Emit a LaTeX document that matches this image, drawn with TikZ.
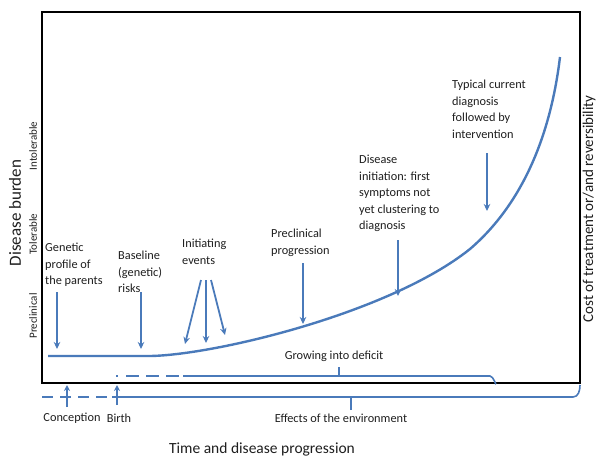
\documentclass[tikz,border=0pt]{standalone}
\usepackage{fontspec}
\setmainfont{Carlito}
\usetikzlibrary{arrows.meta}
\definecolor{burdenblue}{RGB}{74,122,186}
\definecolor{textgray}{RGB}{30,30,30}

\begin{document}
\begin{tikzpicture}[x=1pt,y=-1pt,
    every node/.style={inner sep=0pt,text=textgray,font=\fontsize{12.3}{16.5}\selectfont},
    lbl/.style={align=left,anchor=north west},
    axislbl/.style={rotate=90,font=\fontsize{11}{13}\selectfont},
    arr/.style={burdenblue,line width=1.8pt,-{Stealth[length=7pt,width=6.5pt]}},
    bline/.style={burdenblue,line width=1.6pt},
    dashline/.style={bline,dash pattern=on 11pt off 7pt}]
  \useasboundingbox (0,0) rectangle (597,459);
  \draw[line width=1.4pt] (42,12) rectangle (580,383);

  \node[axislbl,font=\fontsize{17}{19}\selectfont] (burden) at (15,213) {Disease burden};
  \node[axislbl] (intol) at (33,146) {Intolerable};
  \node[axislbl] (tol) at (33,234) {Tolerable};
  \node[axislbl] (precl) at (33,316) {Preclinical};
  \node[axislbl,font=\fontsize{15}{17}\selectfont] (cost) at (589,209) {Cost of treatment or/and reversibility};

  \node[lbl] (genetic) at (45,243) {Genetic\\profile of\\the parents};
  \node[lbl] (baseline) at (118,251) {Baseline\\(genetic)\\risks};
  \node[lbl] (initiating) at (182,239) {Initiating\\events};
  \node[lbl] (preclprog) at (271,229) {Preclinical\\progression};
  \node[lbl] (initiation) at (359,155) {Disease\\initiation: first\\symptoms not\\yet clustering to\\diagnosis};
  \node[lbl] (typical) at (452,80) {Typical current\\diagnosis\\followed by\\intervention};
  \node (deficit) at (334,356) {Growing into deficit};
  \node (conception) at (72,418) {Conception};
  \node (birth) at (119,418) {Birth};
  \node (environment) at (341,418) {Effects of the environment};
  \node[font=\fontsize{15.5}{18}\selectfont] (time) at (262,449) {Time and disease progression};

  \coordinate (c0) at (48,356);
  \coordinate (c1) at (150,356);
  \coordinate (c2) at (470,249);
  \coordinate (c3) at (560,57);
  \draw[burdenblue,line width=2.4pt] (c0) -- (c1)
    .. controls (215,355) and (390,313) .. (c2)
    .. controls (520,206) and (550,140) .. (c3);

  \coordinate (g1) at (57,292);   \coordinate (g2) at (57,349);
  \coordinate (b1) at (141,292);  \coordinate (b2) at (141,349);
  \coordinate (i0) at (206,280);
  \coordinate (i1) at (185,344);  \coordinate (i2) at (206,343);  \coordinate (i3) at (225,335);
  \coordinate (p1) at (303,263);  \coordinate (p2) at (303,324);
  \coordinate (d1) at (398,240);  \coordinate (d2) at (398,296);
  \coordinate (t1) at (487,153);  \coordinate (t2) at (487,211);
  \draw[arr] (g1) -- (g2);
  \draw[arr] (b1) -- (b2);
  \draw[arr] ([xshift=-5pt]i0) -- (i1);
  \draw[arr] (i0) -- (i2);
  \draw[arr] ([xshift=5pt]i0) -- (i3);
  \draw[arr] (p1) -- (p2);
  \draw[arr] (d1) -- (d2);
  \draw[arr] (t1) -- (t2);

  \coordinate (gstart) at (116,376);
  \coordinate (gsolid) at (183,376);
  \coordinate (gend) at (490,376);
  \coordinate (gtip) at (339,367);
  \draw[bline,dash pattern=on 2pt off 8pt on 13pt off 7pt on 13pt off 7pt on 13pt off 7pt] (gstart) -- (gsolid);
  \draw[bline] (gsolid) -- (gend) to[out=0,in=-90] (496,383);
  \draw[bline] (gtip) -- (gtip |- gend);

  \coordinate (estart) at (42,397);
  \coordinate (esolid) at (112,397);
  \coordinate (eend) at (573,397);
  \coordinate (etip) at (351,410);
  \draw[dashline] (estart) -- (esolid);
  \draw[bline] (esolid) -- (eend) to[out=0,in=-90] (580,385);
  \draw[bline] (etip) -- (etip |- eend);

  \coordinate (k1) at (67,407);  \coordinate (k2) at (67,385);
  \coordinate (h1) at (117,405); \coordinate (h2) at (117,385);
  \draw[arr,line width=1.5pt,-{Stealth[length=6pt,width=6pt]}] (k1) -- (k2);
  \draw[arr,line width=1.5pt,-{Stealth[length=6pt,width=6pt]}] (h1) -- (h2);
\end{tikzpicture}
\end{document}
